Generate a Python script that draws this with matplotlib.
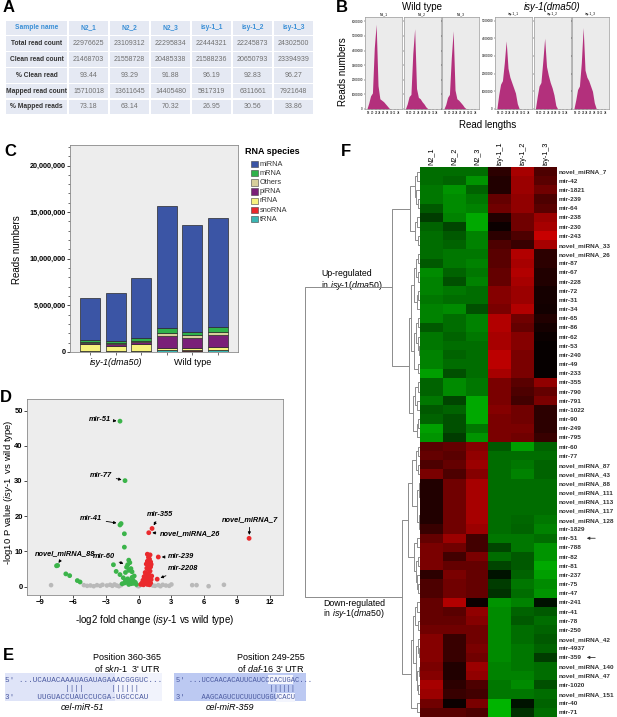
import numpy as np
import matplotlib
matplotlib.use('Agg')
import matplotlib.pyplot as plt
from matplotlib.colors import LinearSegmentedColormap
from matplotlib.patches import Rectangle
from matplotlib.ticker import FuncFormatter, MultipleLocator

plt.rcParams['font.family'] = ['Liberation Sans', 'DejaVu Sans']
plt.rcParams['mathtext.fontset'] = 'custom'
plt.rcParams['mathtext.it'] = 'Liberation Sans:italic'
plt.rcParams['mathtext.rm'] = 'Liberation Sans'
plt.rcParams['mathtext.bf'] = 'Liberation Sans:bold'

# ------------------------------------------------------------------ DATA
# Panel A
table_cols = ['Sample name', 'N2_1', 'N2_2', 'N2_3', 'isy-1_1', 'isy-1_2', 'isy-1_3']
table_rows = ['Total read count', 'Clean read count', '% Clean read',
              'Mapped read count', '% Mapped reads']
total_reads = [22976625, 23109312, 22295834, 22444321, 22245873, 24302500]
clean_reads = [21468703, 21558728, 20485338, 21588236, 20650793, 23394939]
pct_clean = [93.44, 93.29, 91.88, 96.19, 92.83, 96.27]
mapped_reads = [15710018, 13611645, 14405480, 5817319, 6311661, 7921648]
pct_mapped = [73.18, 63.14, 70.32, 26.95, 30.56, 33.86]

# Panel B (reads in millions by read length)
read_lengths = list(range(17, 36))
len_N2_1 = [0, 0.4, 0.9, 1.1, 4.2, 5.8, 1.6, 0.7, 0.6, 0.5, 0.35, 0.2, 0.05, 0, 0, 0, 0, 0, 0]
len_N2_2 = [0, 0.35, 0.85, 1.0, 3.8, 5.5, 1.4, 0.8, 0.7, 0.5, 0.35, 0.15, 0.03, 0, 0, 0, 0, 0, 0]
len_N2_3 = [0, 0.3, 0.8, 1.0, 3.5, 5.35, 1.3, 0.7, 0.6, 0.45, 0.3, 0.12, 0.02, 0, 0, 0, 0, 0, 0]
len_isy_1 = [0, 0.8, 1.4, 1.6, 2.6, 3.85, 2.3, 1.8, 1.5, 1.2, 0.9, 0.3, 0.02, 0, 0, 0, 0, 0, 0]
len_isy_2 = [0, 0.7, 1.3, 1.5, 2.7, 4.0, 2.4, 1.9, 1.5, 1.2, 0.8, 0.2, 0, 0, 0, 0, 0, 0, 0]
len_isy_3 = [0, 0.5, 1.1, 1.3, 2.6, 4.6, 2.2, 1.8, 1.6, 1.3, 1.0, 0.35, 0.03, 0, 0, 0, 0, 0, 0]

# Panel C (reads in millions), bars: isy-1_1..3, N2_1..3
rna_species = ['miRNA', 'mRNA', 'Others', 'piRNA', 'rRNA', 'snoRNA', 'tRNA']
rna_colors = ['#3b55a5', '#2fb24b', '#d7cf9b', '#7a1f78', '#f6f27c', '#e8282b', '#39b5b2']
c_miRNA = [4.57, 5.16, 6.42, 13.16, 11.46, 11.76]
c_mRNA = [0.18, 0.23, 0.30, 0.55, 0.35, 0.55]
c_others = [0.10, 0.10, 0.15, 0.30, 0.30, 0.30]
c_piRNA = [0.15, 0.13, 0.15, 1.22, 1.10, 1.25]
c_rRNA = [0.72, 0.60, 0.80, 0.25, 0.22, 0.32]
c_snoRNA = [0.02, 0.02, 0.02, 0.03, 0.03, 0.03]
c_tRNA = [0.08, 0.07, 0.08, 0.20, 0.15, 0.20]
c_groups = ['isy-1(dma50)', 'Wild type']

# Panel D (volcano)
green_x = [-1.7, -1.24, -1.7, -1.6, -1.3, -1.3, -7.5, -7.4, -6.65, -6.3, -5.6, -5.35, -2.3, -2.05, -1.7,
           -1.1, -0.9, -0.8, -1.0, -0.7, -0.6, -0.9, -1.2, -1.4, -1.0, -0.8, -0.5, -0.4, -0.6, -0.3,
           -1.1, -0.7, -0.5, -1.3, -0.9, -0.2, -1.5, -1.2]
green_y = [47, 30.1, 17.5, 17.9, 15, 11.2, 5.9, 6.0, 3.6, 3.1, 1.7, 1.3, 6.2, 4.3, 3.4,
           5.5, 7.5, 6.8, 6.2, 5.1, 4.2, 4.6, 4.0, 2.5, 2.2, 1.5, 1.8, 3.0, 2.6, 1.2,
           1.2, 0.8, 0.9, 1.0, 0.6, 0.6, 0.8, 1.8]
red_x = [1.23, 0.93, 1.8, 1.7, 10.1, 0.8, 1.05, 0.9, 1.0, 0.8, 1.1, 0.7, 0.95, 1.1, 0.75, 0.9, 1.05,
         0.6, 0.85, 1.0, 0.5, 0.7, 0.95, 1.15, 0.4, 0.6, 0.85, 1.1, 0.3, 0.55, 0.8, 1.0, 0.2, 0.45,
         1.2, 0.65, 1.15]
red_y = [16.5, 15.3, 8.4, 2.1, 13.7, 9.2, 9.0, 8.3, 7.8, 7.2, 7.0, 6.4, 6.1, 5.6, 5.2, 4.8, 4.4,
         4.0, 3.6, 3.2, 2.8, 2.5, 2.2, 2.0, 1.8, 1.5, 1.3, 1.0, 1.0, 0.8, 0.6, 0.5, 0.6, 0.5,
         3.0, 3.3, 6.3]
grey_x = [-8.0, -5.0, -4.7, -4.4, -3.5, -3.3, -2.9, -2.6, -2.4, -2.2, -2.0, -1.8, -1.6, 0.0, 0.1,
          1.5, 1.8, 2.0, 2.2, 2.5, 2.8, 3.0, 4.9, 5.3, 6.4, 7.8, -0.1, 1.3, -3.8, -4.1]
grey_y = [0.4, 0.4, 0.2, 0.3, 0.2, 0.5, 0.3, 0.5, 0.2, 0.6, 0.3, 0.1, 0.4, 0.1, 0.3,
          0.2, 0.4, 0.1, 0.5, 0.3, 0.2, 0.6, 0.4, 0.4, 0.1, 0.5, 0.2, 0.3, 0.4, 0.1]
# label, point(x,y), text(x,y), ha
volcano_labels = [
    ('mir-51', (-1.7, 47), (-2.52, 47.4), 'right'),
    ('mir-77', (-1.24, 30.1), (-2.42, 31.7), 'right'),
    ('mir-41', (-1.7, 17.9), (-3.34, 19.2), 'right'),
    ('mir-355', (1.23, 16.5), (1.96, 20.6), 'center'),
    ('novel_miRNA_26', (0.93, 15.3), (1.96, 15.0), 'left'),
    ('novel_miRNA_7', (10.1, 13.7), (10.18, 19.0), 'center'),
    ('novel_miRNA_88', (-7.5, 5.9), (-6.7, 9.5), 'center'),
    ('mir-60', (-1.08, 6.2), (-2.15, 8.4), 'right'),
    ('mir-239', (1.8, 8.4), (2.69, 8.4), 'left'),
    ('mir-2208', (1.7, 2.1), (2.69, 5.0), 'left'),
]

# Panel E
e_left_lines = ["5' ...UCAUACAAAUAGAUAGAAACGGGUC...",
                "             ||||      ||||||",
                "3'     UUGUACCUAUCCUCGA-UGCCCAU"]
e_right_lines = ["5' ...UCCAACACAUUCAUCCCACUGAC...",
                 "                      ||||||",
                 "3'    AAGCAGUCUCUUUCUGGUCACU"]

# Panel F heatmap
hm_cols = ['N2_1', 'N2_2', 'N2_3', 'isy-1_1', 'isy-1_2', 'isy-1_3']
hm_rows = ['novel_miRNA_7', 'mir-42', 'mir-1821', 'mir-239', 'mir-64', 'mir-238', 'mir-230',
           'mir-243', 'novel_miRNA_33', 'novel_miRNA_26', 'mir-87', 'mir-67', 'mir-228', 'mir-72',
           'mir-31', 'mir-34', 'mir-65', 'mir-86', 'mir-62', 'mir-53', 'mir-240', 'mir-49', 'mir-233',
           'mir-355', 'mir-790', 'mir-791', 'mir-1022', 'mir-90', 'mir-249', 'mir-795',
           'mir-60', 'mir-77', 'novel_miRNA_87', 'novel_miRNA_43', 'novel_miRNA_88', 'novel_miRNA_111',
           'novel_miRNA_113', 'novel_miRNA_117', 'novel_miRNA_128', 'mir-1829', 'mir-51', 'mir-788',
           'mir-82', 'mir-81', 'mir-237', 'mir-75', 'mir-47', 'mir-241', 'mir-41', 'mir-78', 'mir-250',
           'novel_miRNA_42', 'mir-4937', 'mir-359', 'novel_miRNA_140', 'novel_miRNA_47', 'mir-1020',
           'novel_miRNA_151', 'mir-40', 'mir-71']
hm_values = [
    [-0.55, -0.55, -0.55, 0.20, 0.75, 0.35],
    [-0.55, -0.50, -0.75, 0.15, 0.70, 0.40],
    [-0.60, -0.75, -0.50, 0.15, 0.70, 0.50],
    [-0.60, -0.70, -0.60, 0.45, 0.65, 0.35],
    [-0.45, -0.70, -0.65, 0.50, 0.65, 0.40],
    [-0.30, -0.65, -0.85, 0.15, 0.50, 0.70],
    [-0.50, -0.35, -0.85, 0.05, 0.50, 0.75],
    [-0.55, -0.45, -0.65, 0.20, 0.35, 0.90],
    [-0.55, -0.50, -0.65, 0.35, 0.25, 0.75],
    [-0.55, -0.60, -0.60, 0.40, 0.80, 0.20],
    [-0.45, -0.60, -0.65, 0.40, 0.75, 0.20],
    [-0.70, -0.50, -0.60, 0.45, 0.80, 0.15],
    [-0.65, -0.40, -0.65, 0.45, 0.75, 0.15],
    [-0.65, -0.60, -0.55, 0.60, 0.70, 0.10],
    [-0.60, -0.55, -0.55, 0.60, 0.70, 0.10],
    [-0.65, -0.70, -0.40, 0.55, 0.80, 0.08],
    [-0.65, -0.55, -0.65, 0.80, 0.50, 0.15],
    [-0.45, -0.55, -0.65, 0.80, 0.45, 0.10],
    [-0.60, -0.50, -0.60, 0.75, 0.60, 0.05],
    [-0.60, -0.55, -0.55, 0.75, 0.60, 0.03],
    [-0.65, -0.50, -0.55, 0.85, 0.55, 0.03],
    [-0.65, -0.55, -0.55, 0.85, 0.55, 0.03],
    [-0.80, -0.40, -0.55, 0.75, 0.55, 0.03],
    [-0.50, -0.70, -0.60, 0.55, 0.40, 0.65],
    [-0.50, -0.70, -0.60, 0.55, 0.35, 0.45],
    [-0.60, -0.35, -0.85, 0.55, 0.30, 0.55],
    [-0.45, -0.50, -0.85, 0.60, 0.50, 0.20],
    [-0.50, -0.40, -0.85, 0.55, 0.50, 0.20],
    [-0.80, -0.40, -0.60, 0.55, 0.55, 0.20],
    [-0.75, -0.30, -0.75, 0.55, 0.50, 0.25],
    [0.40, 0.45, 0.60, -0.45, -0.80, -0.50],
    [0.45, 0.40, 0.65, -0.55, -0.55, -0.55],
    [0.35, 0.45, 0.70, -0.55, -0.60, -0.50],
    [0.55, 0.35, 0.60, -0.55, -0.65, -0.50],
    [0.15, 0.50, 0.75, -0.55, -0.55, -0.55],
    [0.15, 0.50, 0.75, -0.55, -0.55, -0.55],
    [0.15, 0.50, 0.75, -0.55, -0.55, -0.55],
    [0.15, 0.50, 0.75, -0.55, -0.55, -0.55],
    [0.15, 0.50, 0.75, -0.55, -0.52, -0.60],
    [0.25, 0.50, 0.70, -0.55, -0.50, -0.65],
    [0.45, 0.70, 0.30, -0.60, -0.60, -0.55],
    [0.55, 0.50, 0.30, -0.35, -0.60, -0.75],
    [0.55, 0.30, 0.55, -0.55, -0.45, -0.75],
    [0.55, 0.45, 0.45, -0.35, -0.45, -0.85],
    [0.20, 0.55, 0.45, -0.10, -0.50, -0.80],
    [0.35, 0.50, 0.45, -0.30, -0.60, -0.70],
    [0.35, 0.50, 0.45, -0.25, -0.55, -0.75],
    [0.45, 0.80, 0.05, -0.75, -0.65, -0.08],
    [0.45, 0.40, 0.65, -0.70, -0.50, -0.45],
    [0.45, 0.45, 0.60, -0.70, -0.45, -0.55],
    [0.50, 0.50, 0.50, -0.70, -0.55, -0.50],
    [0.60, 0.25, 0.50, -0.70, -0.55, -0.45],
    [0.60, 0.25, 0.55, -0.70, -0.60, -0.50],
    [0.60, 0.25, 0.50, -0.70, -0.60, -0.30],
    [0.55, 0.15, 0.70, -0.65, -0.60, -0.55],
    [0.60, 0.15, 0.65, -0.65, -0.65, -0.55],
    [0.75, 0.20, 0.35, -0.60, -0.70, -0.40],
    [0.70, 0.25, 0.30, -0.60, -0.60, -0.55],
    [0.50, 0.05, 0.55, -0.90, -0.10, -0.50],
    [0.40, 0.40, 0.35, -0.90, -0.25, -0.55],
]
hm_arrow_rows = ['mir-51', 'mir-359']

# Dendrogram tree (leaf = row index, node = (left, right, merge height))
def N(a, b, h):
    return (a, b, h)

up_top = N(N(N(0, 1, 3), N(2, N(3, 4, 2), 4), 5), N(N(5, 6, 3), N(7, 8, 2.5), 5), 10)
up_mid = N(N(N(9, 10, 2), N(11, 12, 2.5), 4), N(N(13, 14, 2), 15, 3), 6)
up_low = N(N(N(16, 17, 2.5), N(18, N(19, 20, 1.5), 2.5), 4), N(21, 22, 2.5), 6)
up_bot = N(N(N(23, 24, 2), N(25, 26, 3), 5), N(N(27, 28, 2), 29, 3), 7)
up_tree = N(up_top, N(N(up_mid, up_low, 9), up_bot, 11), 28)
dn_a = N(N(N(30, 31, 2), N(32, 33, 2.5), 4), N(N(34, N(35, 36, 0.5), 1.5), N(N(37, 38, 0.5), 39, 1.5), 3), 8)
dn_b = N(N(40, 41, 3), N(N(42, 43, 2.5), N(44, N(45, 46, 2), 3), 4), 6)
dn_c = N(N(N(47, 48, 3), N(49, 50, 2), 5), N(N(51, N(52, 53, 1.5), 2.5), N(N(54, 55, 1.5), N(56, 57, 2), 3), 4), 7)
dn_d = N(58, 59, 3)
dn_tree = N(N(dn_a, dn_b, 12), N(dn_c, dn_d, 9), 18)
root_tree = N(up_tree, dn_tree, 115)

# ------------------------------------------------------------------ FIGURE
W, H = 617, 717
fig = plt.figure(figsize=(W / 100, H / 100), dpi=100)


def px_ax(x0, y0, x1, y1, **kw):
    return fig.add_axes([x0 / W, 1 - y1 / H, (x1 - x0) / W, (y1 - y0) / H], **kw)


ov = px_ax(0, 0, W, H)
ov.set_xlim(0, W)
ov.set_ylim(H, 0)
ov.axis('off')

for lab, (x, y) in zip('ABCDEF', [(9, 8), (342, 8), (10, 151), (6, 397), (8, 655), (346, 152)]):
    ov.text(x, y, lab, fontsize=12, fontweight='bold', ha='center', va='center')

# ---------------- Panel A: table
row_h = 15.8
tab_top = 20
col_edges = [5, 68] + [68 + 41 * (k + 1) for k in range(6)]
table_data = [total_reads, clean_reads, pct_clean, mapped_reads, pct_mapped]
for r in range(6):
    y0 = tab_top + r * row_h
    for c in range(7):
        x0, x1 = col_edges[c], col_edges[c + 1]
        ov.add_patch(Rectangle((x0 + 0.6, y0 + 0.6), x1 - x0 - 1.2, row_h - 1.2,
                               facecolor='#e5e9f3', edgecolor='none'))
        xc = (x0 + x1) / 2
        yc = y0 + row_h / 2
        if r == 0:
            ov.text(xc, yc, table_cols[c], fontsize=4.8, fontweight='bold', color='#3a8fd6',
                    ha='center', va='center')
        elif c == 0:
            ov.text(xc, yc, table_rows[r - 1], fontsize=4.8, fontweight='bold', color='#333333',
                    ha='center', va='center')
        else:
            v = table_data[r - 1][c - 1]
            s = f'{v:.2f}' if isinstance(v, float) else str(v)
            ov.text(xc, yc, s, fontsize=5.0, color='#707070', ha='center', va='center')

# ---------------- Panel B: read length distributions
b_groups = [
    ('Wild type', ['N2_1', 'N2_2', 'N2_3'], [len_N2_1, len_N2_2, len_N2_3], 365, 6.3, 'normal'),
    ('isy-1(dma50)', ['isy-1_1', 'isy-1_2', 'isy-1_3'], [len_isy_1, len_isy_2, len_isy_3], 495, 5.2, 'italic'),
]
pw = 37.2
for gname, names, series, gx0, ytop, gstyle in b_groups:
    for k, (nm, vals) in enumerate(zip(names, series)):
        x0 = gx0 + k * (pw + 1.3)
        ax = px_ax(x0, 17, x0 + pw, 109)
        ax.set_facecolor('#ebebeb')
        ax.fill_between(read_lengths, np.array(vals) * 1e6, color='#b3307c', lw=0)
        ax.set_xlim(16, 36)
        ax.set_ylim(0, ytop * 1e6)
        ax.set_xticks(range(18, 36, 2))
        ax.set_xticklabels([str(v) for v in range(18, 36, 2)], fontsize=2.2)
        ax.set_yticks([i * 1e6 for i in range(int(ytop) + 1)])
        if k == 0:
            ax.set_yticklabels([str(i * 1000000) for i in range(int(ytop) + 1)], fontsize=2.2)
        else:
            ax.set_yticklabels([])
            ax.tick_params(axis='y', length=0)
        ax.tick_params(length=1, width=0.3, pad=0.5)
        for sp in ax.spines.values():
            sp.set_color('#9a9a9a')
            sp.set_linewidth(0.5)
        ax.text(0.5, 1.01, nm, transform=ax.transAxes, fontsize=2.4, ha='center', va='bottom')
    gxc = gx0 + 1.5 * pw + 1.3
    ov.text(gxc, 7, gname, fontsize=7, ha='center', va='center', style=gstyle)
ov.text(488, 125, 'Read lengths', fontsize=7, ha='center', va='center')
ov.text(343, 72, 'Reads numbers', fontsize=7, ha='center', va='center', rotation=90)

# ---------------- Panel C: stacked bars
axc = px_ax(70, 145, 238, 352)
axc.set_facecolor('#ededed')
stack = [c_tRNA, c_snoRNA, c_rRNA, c_piRNA, c_others, c_mRNA, c_miRNA]
stack_cols = rna_colors[::-1]
xs = np.arange(6)
bottom = np.zeros(6)
for vals, col in zip(stack, stack_cols):
    v = np.array(vals) * 1e6
    axc.bar(xs, v, 0.77, bottom=bottom, color=col, edgecolor='#2a2a2a', linewidth=0.5)
    bottom += v
axc.set_xlim(-0.79, 5.79)
axc.set_ylim(0, 22.2e6)
axc.yaxis.set_major_locator(MultipleLocator(5e6))
axc.yaxis.set_minor_locator(MultipleLocator(1e6))
axc.yaxis.set_major_formatter(FuncFormatter(lambda v, p: f'{int(v):,}'))
axc.set_xticks(xs)
axc.set_xticklabels([])
axc.tick_params(axis='y', labelsize=5.2, length=2, width=0.5, pad=1)
axc.tick_params(axis='y', which='minor', length=1.2, width=0.4)
axc.tick_params(axis='x', length=2, width=0.4)
for t in axc.get_yticklabels():
    t.set_fontweight('bold')
for sp in axc.spines.values():
    sp.set_color('#8a8a8a')
    sp.set_linewidth(0.6)
ov.text(17, 250, 'Reads numbers', fontsize=7, ha='center', va='center', rotation=90)
axc.text(1, -0.6e6, c_groups[0], fontsize=6.5, style='italic', ha='center', va='top')
axc.text(4, -0.6e6, c_groups[1], fontsize=6.5, ha='center', va='top')
ov.text(245, 152, 'RNA species', fontsize=6.5, fontweight='bold', ha='left', va='center')
for i, (nm, col) in enumerate(zip(rna_species, rna_colors)):
    yy = 164 + i * 9.2
    ov.add_patch(Rectangle((251, yy - 3.3), 6.6, 6.6, facecolor=col, edgecolor='#444444', lw=0.4))
    ov.text(259.5, yy, nm, fontsize=5.3, ha='left', va='center', color='#333333')

# ---------------- Panel D: volcano
axd = px_ax(27, 399, 283, 595)
axd.set_facecolor('#ededed')
axd.scatter(grey_x, grey_y, s=11, color='#b9b9b9', edgecolors='none', zorder=2)
axd.scatter(green_x, green_y, s=12, color='#3bb44a', edgecolors='none', zorder=3)
axd.scatter(red_x, red_y, s=12, color='#ea2a2d', edgecolors='none', zorder=3)
axd.set_xlim(-10.2, 13.2)
axd.set_ylim(-2.4, 53.3)
axd.set_xticks(range(-9, 13, 3))
axd.set_yticks(range(0, 51, 10))
axd.tick_params(labelsize=5.5, length=2, width=0.5, pad=1)
for t in axd.get_xticklabels() + axd.get_yticklabels():
    t.set_fontweight('bold')
for sp in axd.spines.values():
    sp.set_color('#8a8a8a')
    sp.set_linewidth(0.6)
for lab, pt, txt, ha in volcano_labels:
    axd.annotate(lab, xy=pt, xytext=txt, fontsize=5.3, fontweight='bold', style='italic',
                 ha=ha, va='center',
                 arrowprops=dict(arrowstyle='-|>', color='k', lw=0.6, mutation_scale=4,
                                 shrinkA=1, shrinkB=2.5))
axd.set_xlabel(r'-log2 fold change ($\mathit{isy}$-$\mathit{1}$ vs wild type)', fontsize=7, labelpad=5)
ov.text(9, 492, r'-log10 P value ($\mathit{isy}$-$\mathit{1}$  vs wild type)', fontsize=6.8,
        ha='center', va='center', rotation=90)

# ---------------- Panel E: seed pairing
ov.add_patch(Rectangle((5, 673), 157, 28, facecolor='#dfe4f8', edgecolor='none'))
ov.add_patch(Rectangle((115, 673), 47, 28, facecolor='#f1f3fc', edgecolor='none'))
ov.add_patch(Rectangle((174, 673), 132, 28, facecolor='#bcc9f2', edgecolor='none'))
ov.add_patch(Rectangle((268, 674.5), 25, 9, facecolor='#f3f5fd', edgecolor='none'))
ov.add_patch(Rectangle((276, 692.5), 19, 9, facecolor='#f3f5fd', edgecolor='none'))
for i, line in enumerate(e_left_lines):
    ov.text(5, 680 + i * 8.6, line, fontsize=5.5, family='Liberation Mono', color='#4b5aa0',
            ha='left', va='center')
for i, line in enumerate(e_right_lines):
    ov.text(176, 680 + i * 8.6, line, fontsize=5.1, family='Liberation Mono', color='#4b5aa0',
            ha='left', va='center')
ov.text(127, 657, 'Position 360-365', fontsize=6.5, ha='center', va='center')
ov.text(127, 668, "of $\\mathit{skn}$-$\\mathit{1}$  3' UTR", fontsize=6.5, ha='center', va='center')
ov.text(82, 708, 'cel-miR-51', fontsize=6.5, style='italic', ha='center', va='center')
ov.text(271, 657, 'Position 249-255', fontsize=6.5, ha='center', va='center')
ov.text(271, 668, "of $\\mathit{daf}$-$\\mathit{16}$ 3' UTR", fontsize=6.5, ha='center', va='center')
ov.text(230, 708, 'cel-miR-359', fontsize=6.5, style='italic', ha='center', va='center')

# ---------------- Panel F: heatmap
hm_top, hm_bot, hm_left, hm_right = 167, 717, 420, 557
cmap = LinearSegmentedColormap.from_list('gkr', [(0, (0.0, 0.78, 0.0)), (0.5, (0, 0, 0)),
                                                 (1, (0.87, 0.0, 0.0))])
axf = px_ax(hm_left, hm_top, hm_right, hm_bot)
axf.imshow(np.array(hm_values), aspect='auto', cmap=cmap, vmin=-1, vmax=1, interpolation='nearest')
axf.set_yticks(range(len(hm_rows)))
axf.set_yticklabels(hm_rows, fontsize=4.6, fontweight='bold', color='#333333')
axf.yaxis.tick_right()
axf.set_xticks(range(len(hm_cols)))
axf.set_xticklabels(hm_cols, fontsize=5.2, rotation=90)
axf.xaxis.tick_top()
axf.tick_params(length=0, pad=1.5)
for sp in axf.spines.values():
    sp.set_visible(False)

axt = px_ax(303, hm_top, hm_left, hm_bot)
axt.set_xlim(117, 0)
axt.set_ylim(len(hm_rows), 0)
axt.axis('off')


def dend(node):
    if isinstance(node, int):
        return node + 0.5, 0
    a, b, h = node
    ya, ha_ = dend(a)
    yb, hb = dend(b)
    axt.plot([ha_, h, h, hb], [ya, ya, yb, yb], color='#8c8c8c', lw=0.7, solid_capstyle='butt')
    return (ya + yb) / 2, h


dend(root_tree)

rh = (hm_bot - hm_top) / len(hm_rows)
for nm in hm_arrow_rows:
    yy = hm_top + (hm_rows.index(nm) + 0.5) * rh
    ov.annotate('', xy=(584, yy), xytext=(598, yy),
                arrowprops=dict(arrowstyle='-|>', color='#333333', lw=0.6, mutation_scale=4))

ov.text(321, 274, 'Up-regulated', fontsize=6.3, ha='left', va='center')
ov.text(321, 285, r'in $\mathit{isy}$-$\mathit{1(dma50)}$', fontsize=6.3, ha='left', va='center')
ov.text(323, 603, 'Down-regulated', fontsize=6.3, ha='left', va='center')
ov.text(323, 614, r'in $\mathit{isy}$-$\mathit{1(dma50)}$', fontsize=6.3, ha='left', va='center')

fig.savefig('out.png', dpi=100)
